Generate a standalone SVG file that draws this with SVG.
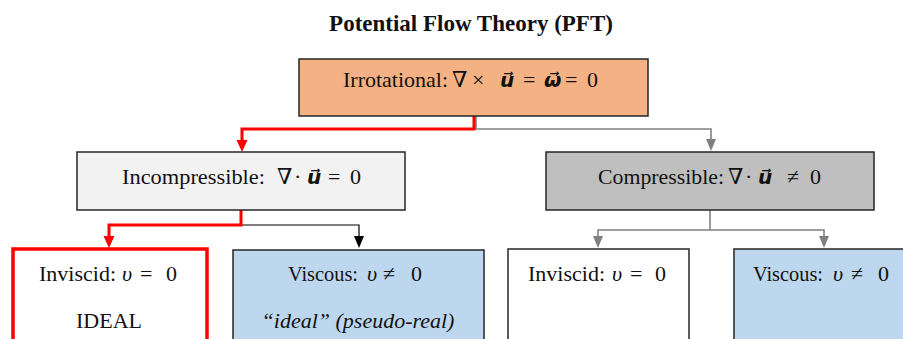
<svg xmlns="http://www.w3.org/2000/svg" width="903" height="339" viewBox="0 0 903 339">
<style>
.t{font-family:"Liberation Serif","Times New Roman","DejaVu Serif",serif;font-size:22px;fill:#111}
.b{font-weight:bold}
.i{font-style:italic}
.v{font-family:"DejaVu Sans",sans-serif;font-weight:bold;font-style:oblique;font-size:20px}
.box{stroke:#262626;stroke-width:1.5}
.c{fill:none}
</style>
<defs>
<marker id="mr" viewBox="0 0 12 12" refX="0" refY="6" markerWidth="12" markerHeight="12" markerUnits="userSpaceOnUse" orient="auto"><path d="M0,0.5 L12,6 L0,11.5 z" fill="#FF0000"/></marker>
<marker id="mg" viewBox="0 0 12 12" refX="0" refY="6" markerWidth="12" markerHeight="12" markerUnits="userSpaceOnUse" orient="auto"><path d="M0,1 L12,6 L0,11 z" fill="#808080"/></marker>
<marker id="mk" viewBox="0 0 12 12" refX="0" refY="6" markerWidth="12" markerHeight="12" markerUnits="userSpaceOnUse" orient="auto"><path d="M0,1 L12,6 L0,11 z" fill="#000"/></marker>
</defs>
<rect width="903" height="339" fill="#fff"/>
<text class="t b" x="471" y="31" text-anchor="middle" style="font-size:23px">Potential Flow Theory (PFT)</text>

<g id="connectors">
<path class="c" d="M476,116 V129 H711 V139" stroke="#808080" stroke-width="1.6" marker-end="url(#mg)"/>
<path class="c" d="M474,116 V129 H242 V140" stroke="#FF0000" stroke-width="3" marker-end="url(#mr)"/>
<path class="c" d="M241,225 H359 V236" stroke="#000" stroke-width="1.2" marker-end="url(#mk)"/>
<path class="c" d="M241,210 V225 H109 V236" stroke="#FF0000" stroke-width="3" marker-end="url(#mr)"/>
<path class="c" d="M710,210 V230" stroke="#808080" stroke-width="1.6"/>
<path class="c" d="M710,230 H598 V236" stroke="#808080" stroke-width="1.6" marker-end="url(#mg)"/>
<path class="c" d="M710,230 H824 V236" stroke="#808080" stroke-width="1.6" marker-end="url(#mg)"/>
</g>

<g id="irrotational">
<rect class="box" x="299" y="59" width="349" height="57" fill="#F4B183"/>
<text class="t" y="87"><tspan x="343">Irrotational:</tspan><tspan x="452">∇</tspan><tspan x="472">×</tspan><tspan x="500" class="v">u&#x20D7;</tspan><tspan x="523">=</tspan><tspan x="544" class="v">ω&#x20D7;</tspan><tspan x="565">=</tspan><tspan x="587">0</tspan></text>
</g>

<g id="incompressible">
<rect class="box" x="77" y="152" width="328" height="58" fill="#F2F2F2"/>
<text class="t" y="184"><tspan x="122" textLength="143" lengthAdjust="spacingAndGlyphs">Incompressible:</tspan><tspan x="277">∇</tspan><tspan x="294">·</tspan><tspan x="307" class="v">u&#x20D7;</tspan><tspan x="328">=</tspan><tspan x="350">0</tspan></text>
</g>

<g id="compressible">
<rect class="box" x="546" y="152" width="328" height="58" fill="#BFBFBF"/>
<text class="t" y="184"><tspan x="598" textLength="126" lengthAdjust="spacingAndGlyphs">Compressible:</tspan><tspan x="728">∇</tspan><tspan x="745">·</tspan><tspan x="758" class="v">u&#x20D7;</tspan><tspan x="787">≠</tspan><tspan x="810">0</tspan></text>
</g>

<g id="inviscid-ideal">
<rect x="13" y="249" width="194" height="110" fill="#fff" stroke="#FF0000" stroke-width="3.5"/>
<text class="t" y="281"><tspan x="39">Inviscid:</tspan><tspan x="122" class="i">υ</tspan><tspan x="140">=</tspan><tspan x="166">0</tspan></text>
<text class="t" x="109" y="328" text-anchor="middle">IDEAL</text>
</g>

<g id="viscous-pseudo">
<rect class="box" x="233" y="250" width="251" height="110" fill="#BDD7EE"/>
<text class="t" y="281"><tspan x="288" textLength="70" lengthAdjust="spacingAndGlyphs">Viscous:</tspan><tspan x="367" class="i">υ</tspan><tspan x="383">≠</tspan><tspan x="411">0</tspan></text>
<text class="t i" x="358" y="328" text-anchor="middle">“ideal” (pseudo-real)</text>
</g>

<g id="inviscid-compressible">
<rect class="box" x="508" y="249" width="181" height="110" fill="#fff"/>
<text class="t" y="281"><tspan x="528">Inviscid:</tspan><tspan x="612" class="i">υ</tspan><tspan x="630">=</tspan><tspan x="655">0</tspan></text>
</g>

<g id="viscous-compressible">
<rect class="box" x="734" y="249" width="190" height="110" fill="#BDD7EE"/>
<text class="t" y="281"><tspan x="753" textLength="70" lengthAdjust="spacingAndGlyphs">Viscous:</tspan><tspan x="833" class="i">υ</tspan><tspan x="851">≠</tspan><tspan x="878">0</tspan></text>
</g>
</svg>
